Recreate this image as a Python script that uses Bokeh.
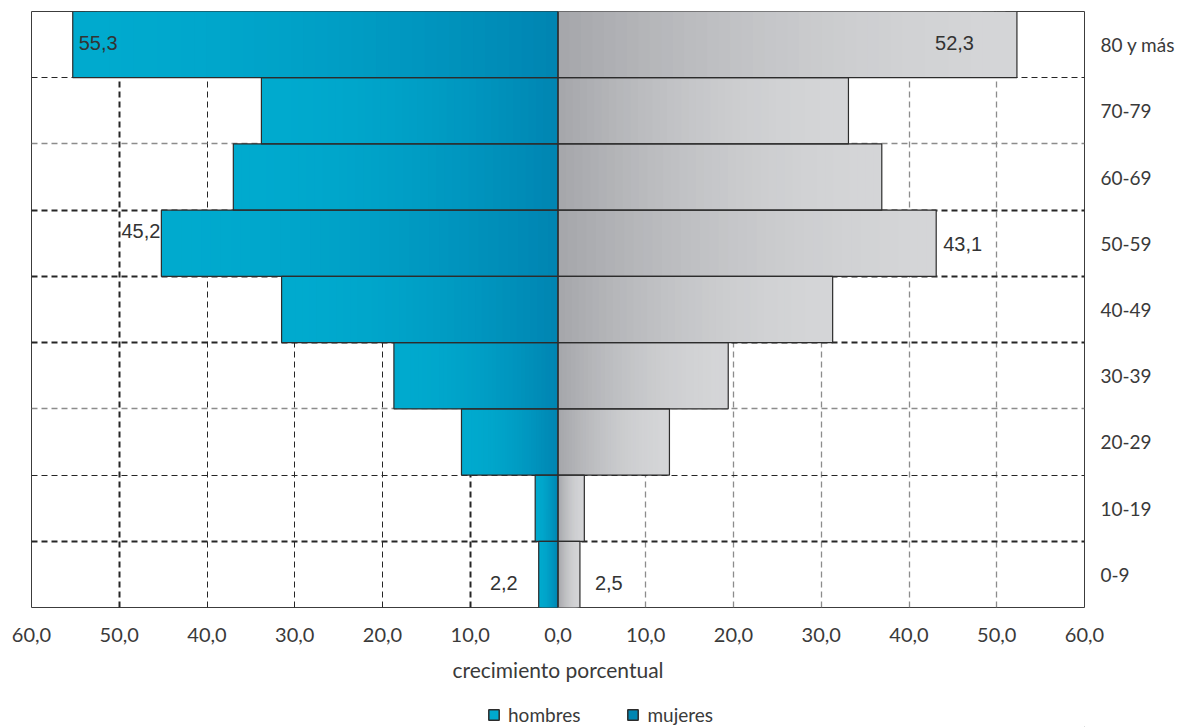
import numpy as np
from bokeh.plotting import figure
from bokeh.layouts import column
from bokeh.models import (FixedTicker, Grid, Legend, LegendItem, ColumnDataSource,
                          Range1d)
from bokeh.core.properties import value
from bokeh.embed import file_html
from bokeh.resources import INLINE

# ---------------- data ----------------
categories = ["0-9", "10-19", "20-29", "30-39", "40-49", "50-59", "60-69", "70-79", "80 y más"]
hombres = [2.2, 2.6, 11.0, 18.7, 31.5, 45.2, 37.0, 33.8, 55.3]
mujeres = [2.5, 3.0, 12.7, 19.4, 31.3, 43.1, 36.9, 33.1, 52.3]
x_ticks = [-60, -50, -40, -30, -20, -10, 0, 10, 20, 30, 40, 50, 60]
label_cats = ["80 y más", "80 y más", "50-59", "50-59", "0-9", "0-9"]
label_sides = ["hombres", "mujeres", "hombres", "mujeres", "hombres", "mujeres"]

# ---------------- styles ----------------
AX_FONT = "Lato"
NUM_FONT = "Liberation Sans"
TXT = "#3a3a3a"
DARK = "#262626"
GRAY = "#8c8c8c"
BLUE_LIGHT = (0, 170, 206)
BLUE_DARK = (0, 133, 178)
GRAY_LIGHT = (212, 213, 215)
GRAY_DARK = (166, 167, 171)

ys = np.arange(len(categories)) + 0.5
h = np.array(hombres)
m = np.array(mujeres)

p = figure(width=1181, height=700, x_range=Range1d(-60, 60), y_range=Range1d(0, len(categories)),
           y_axis_location="right", output_backend="svg", toolbar_location=None,
           min_border_left=31, min_border_right=97, min_border_top=11, min_border_bottom=93,
           background_fill_color="white", border_fill_color="white")
p.xgrid.visible = False
p.ygrid.visible = False
p.outline_line_color = "#3c3c3c"
p.outline_line_width = 1

# grid lines (dashed, various weights)
def add_grid(dim, ticks, color, width):
    g = Grid(dimension=dim, ticker=FixedTicker(ticks=ticks), grid_line_color=color,
             grid_line_width=width, grid_line_dash="6 4")
    p.add_layout(g)

add_grid(0, [-50, -10], DARK, 2)
add_grid(0, [-40, -30, -20], DARK, 1)
add_grid(0, [10, 20, 30, 40, 50], GRAY, 1.3)
bounds = np.arange(1, len(categories))
add_grid(1, [float(bounds[i]) for i in [0, 3, 4, 5]], DARK, 2)
add_grid(1, [float(bounds[i]) for i in [1, 7]], DARK, 1)
add_grid(1, [float(bounds[i]) for i in [2, 6]], GRAY, 1.5)

# gradient bars built from nested layers
def mix(c1, c2, t):
    return "#%02x%02x%02x" % tuple(int(round(a + (b - a) * t)) for a, b in zip(c1, c2))

N = 40
yy, lefts, rights, cols = [], [], [], []
yy2, lefts2, rights2, cols2 = [], [], [], []
for k in range(N):
    f = 1 - k / N
    t = (k / (N - 1)) ** 1.8
    cb = mix(BLUE_LIGHT, BLUE_DARK, t)
    cg = mix(GRAY_LIGHT, GRAY_DARK, t)
    for i in range(len(categories)):
        yy.append(ys[i]); lefts.append(-h[i] * f); rights.append(0.0); cols.append(cb)
        yy2.append(ys[i]); lefts2.append(0.0); rights2.append(m[i] * f); cols2.append(cg)

src_h = ColumnDataSource(dict(y=yy, left=lefts, right=rights, c=cols))
src_m = ColumnDataSource(dict(y=yy2, left=lefts2, right=rights2, c=cols2))
p.hbar(y="y", left="left", right="right", height=1.0, fill_color="c", line_color=None, source=src_h)
p.hbar(y="y", left="left", right="right", height=1.0, fill_color="c", line_color=None, source=src_m)

# outlines
p.hbar(y=ys, left=-h, right=0, height=1.0, fill_color=None, line_color="#2c2c2c", line_width=1.2)
p.hbar(y=ys, left=0, right=m, height=1.0, fill_color=None, line_color="#2c2c2c", line_width=1.2)

# value labels
lx, ly, lt = [], [], []
for cat, side in zip(label_cats, label_sides):
    i = categories.index(cat)
    v = hombres[i] if side == "hombres" else mujeres[i]
    lx.append(-v if side == "hombres" else v)
    ly.append(ys[i])
    lt.append(f"{v:.1f}".replace(".", ","))
lab_src = ColumnDataSource(dict(x=lx, y=ly, t=lt,
                                xo=[6, -43, -1, 7, -21, 15],
                                yo=[-2, -2, -12, 1, 9, 9],
                                al=["left", "right", "right", "left", "right", "left"]))
p.text(x="x", y="y", text="t", x_offset="xo", y_offset="yo", text_align="al",
       text_baseline="middle", text_font=value(NUM_FONT), text_font_size="20px",
       text_color="#333333", source=lab_src)

# axes
xa = p.xaxis[0]
xa.ticker = FixedTicker(ticks=x_ticks)
xa.major_label_overrides = {t: f"{abs(t):.1f}".replace(".", ",") for t in x_ticks}
xa.axis_line_color = None
xa.major_tick_line_color = None
xa.minor_tick_line_color = None
xa.major_label_standoff = 14
xa.major_label_text_font = AX_FONT
xa.major_label_text_font_size = "20px"
xa.major_label_text_color = TXT
xa.axis_label = "crecimiento porcentual"
xa.axis_label_text_font = AX_FONT
xa.axis_label_text_font_size = "21px"
xa.axis_label_text_font_style = "normal"
xa.axis_label_text_color = TXT
xa.axis_label_standoff = 12

ya = p.yaxis[0]
ya.ticker = FixedTicker(ticks=[float(v) for v in ys])
ya.major_label_overrides = {float(v): c for v, c in zip(ys, categories)}
ya.axis_line_color = None
ya.major_tick_line_color = None
ya.minor_tick_line_color = None
ya.major_label_standoff = 10
ya.major_label_text_font = AX_FONT
ya.major_label_text_font_size = "19px"
ya.major_label_text_color = TXT

# legend strip (separate small figure below the chart)
q = figure(width=1181, height=27, output_backend="svg", toolbar_location=None,
           x_axis_location=None, y_axis_location=None,
           x_range=Range1d(0, 1), y_range=Range1d(0, 1),
           min_border=0, background_fill_color="white", border_fill_color="white")
q.grid.visible = False
q.outline_line_color = None
# proxy glyphs kept outside the visible range; they only feed the legend swatches
r_h = q.hbar(y=[-5], left=[5], right=[6], height=1, fill_color="#00a9ce", line_color="#2c2c2c", line_width=1.5)
r_m = q.hbar(y=[-5], left=[5], right=[6], height=1, fill_color="#0086b2", line_color="#2c2c2c", line_width=1.5)
legend = Legend(items=[LegendItem(label="hombres", renderers=[r_h]),
                       LegendItem(label="mujeres", renderers=[r_m])],
                orientation="horizontal", location=(456, 1),
                glyph_width=13, glyph_height=13, label_height=16, label_standoff=8,
                spacing=46, padding=0, margin=0, border_line_color=None,
                background_fill_alpha=0,
                label_text_font=AX_FONT, label_text_font_size="19px", label_text_color=TXT)
q.add_layout(legend, "center")

layout = column(p, q, spacing=0)
open("out.html", "w").write(file_html(layout, INLINE))
